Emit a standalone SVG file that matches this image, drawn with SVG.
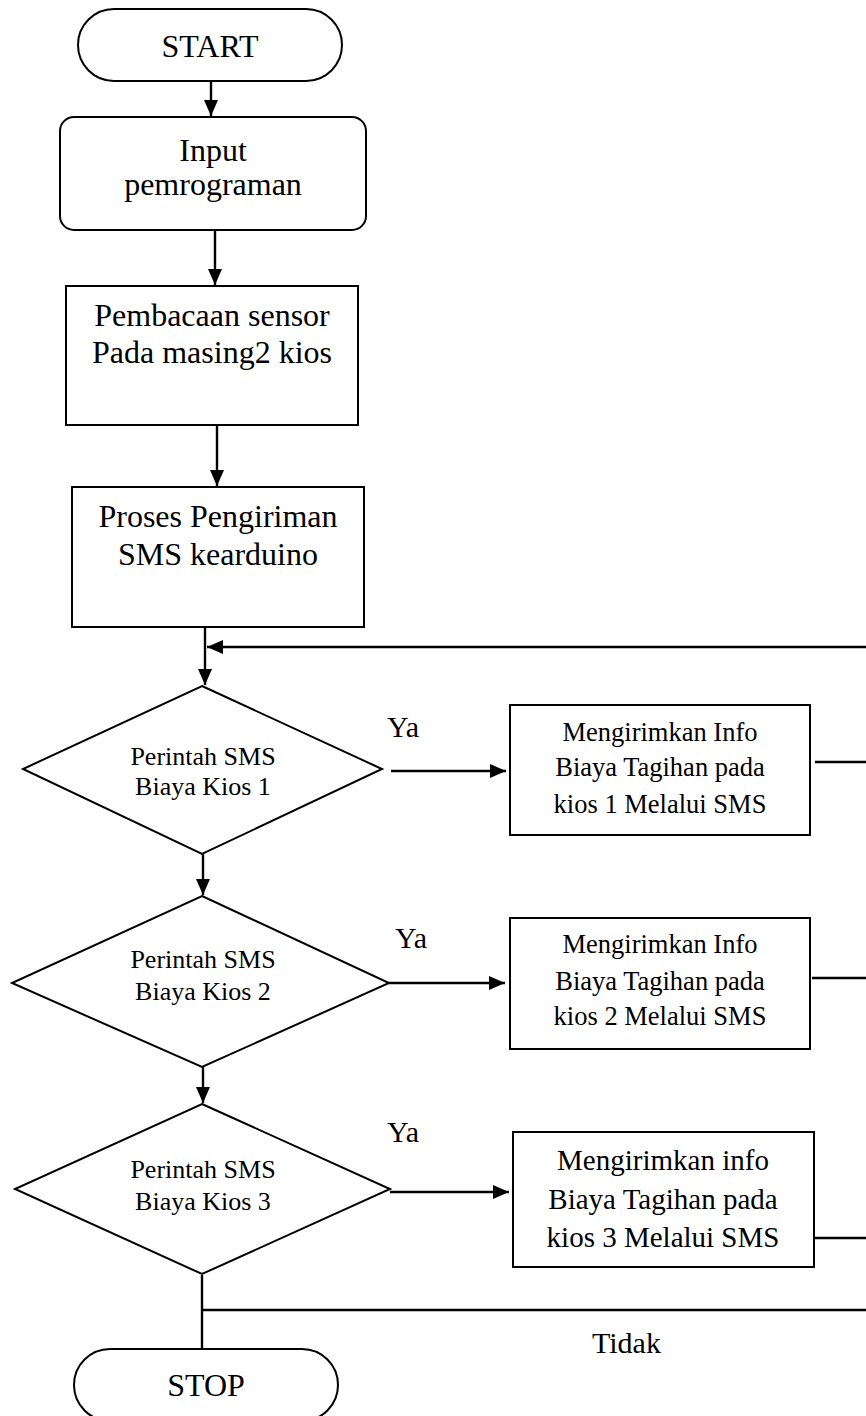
<svg xmlns="http://www.w3.org/2000/svg" width="866" height="1416" viewBox="0 0 866 1416">
<style>
.s{fill:#fff;stroke:#000;stroke-width:2}
.c{fill:none;stroke:#000;stroke-width:2.4}
text{font-family:"Liberation Serif","Times New Roman",serif;fill:#000;text-anchor:middle}
.b{font-size:32px}
.d{font-size:26px}
.m{font-size:26.5px}
.l{font-size:29px}
.y{font-size:30px;text-anchor:start}
</style>
<defs>
<marker id="ah" markerUnits="userSpaceOnUse" markerWidth="17" markerHeight="15" refX="16" refY="7" orient="auto">
<path d="M0,0 L16,7 L0,14 z" fill="#000"/>
</marker>
</defs>
<rect width="866" height="1416" fill="#fff"/>
<g id="connectors">
<line class="c" x1="211" y1="81" x2="211" y2="116" marker-end="url(#ah)"/>
<line class="c" x1="215" y1="230" x2="215" y2="285" marker-end="url(#ah)"/>
<line class="c" x1="217" y1="426" x2="217" y2="486" marker-end="url(#ah)"/>
<line class="c" x1="205" y1="627" x2="205" y2="685" marker-end="url(#ah)"/>
<line class="c" x1="866" y1="647" x2="207" y2="647" marker-end="url(#ah)"/>
<line class="c" x1="391" y1="771" x2="506" y2="771" marker-end="url(#ah)"/>
<line class="c" x1="815" y1="762" x2="866" y2="762"/>
<line class="c" x1="203" y1="854" x2="203" y2="895" marker-end="url(#ah)"/>
<line class="c" x1="389" y1="983" x2="505" y2="983" marker-end="url(#ah)"/>
<line class="c" x1="812" y1="978" x2="866" y2="978"/>
<line class="c" x1="203" y1="1067" x2="203" y2="1103" marker-end="url(#ah)"/>
<line class="c" x1="390" y1="1192" x2="509" y2="1192" marker-end="url(#ah)"/>
<line class="c" x1="814" y1="1238" x2="866" y2="1238"/>
<line class="c" x1="202" y1="1275" x2="202" y2="1349"/>
<line class="c" x1="202" y1="1310" x2="866" y2="1310"/>
</g>
<g id="start">
<rect class="s" x="78" y="9" width="264" height="72" rx="36"/>
<text class="b" x="210" y="57">START</text>
</g>
<g id="input">
<rect class="s" x="60" y="117" width="306" height="113" rx="14"/>
<text class="b" x="213" y="161">Input</text>
<text class="b" x="213" y="195">pemrograman</text>
</g>
<g id="pembacaan">
<rect class="s" x="66" y="286" width="292" height="139"/>
<text class="b" x="212" y="326">Pembacaan sensor</text>
<text class="b" x="212" y="363">Pada masing2 kios</text>
</g>
<g id="proses">
<rect class="s" x="72" y="487" width="292" height="140"/>
<text class="b" x="218" y="527">Proses Pengiriman</text>
<text class="b" x="218" y="565">SMS kearduino</text>
</g>
<g id="decision1">
<polygon class="s" points="202,686 382,769 202,854 23,769"/>
<text class="d" x="203" y="765">Perintah SMS</text>
<text class="d" x="203" y="795">Biaya Kios 1</text>
</g>
<text class="y" x="387" y="737">Ya</text>
<g id="info1">
<rect class="s" x="510" y="705" width="300" height="130"/>
<text class="m" x="660" y="741">Mengirimkan Info</text>
<text class="m" x="660" y="776">Biaya Tagihan pada</text>
<text class="m" x="660" y="813">kios 1 Melalui SMS</text>
</g>
<g id="decision2">
<polygon class="s" points="202,896 389,983 202,1067 12,983"/>
<text class="d" x="203" y="968">Perintah SMS</text>
<text class="d" x="203" y="1000">Biaya Kios 2</text>
</g>
<text class="y" x="395" y="948">Ya</text>
<g id="info2">
<rect class="s" x="510" y="918" width="300" height="131"/>
<text class="m" x="660" y="953">Mengirimkan Info</text>
<text class="m" x="660" y="990">Biaya Tagihan pada</text>
<text class="m" x="660" y="1025">kios 2 Melalui SMS</text>
</g>
<g id="decision3">
<polygon class="s" points="202,1104 390,1189 202,1274 15,1189"/>
<text class="d" x="203" y="1178">Perintah SMS</text>
<text class="d" x="203" y="1210">Biaya Kios 3</text>
</g>
<text class="y" x="387" y="1142">Ya</text>
<g id="info3">
<rect class="s" x="513" y="1132" width="301" height="135"/>
<text class="l" x="663" y="1170">Mengirimkan info</text>
<text class="l" x="663" y="1209">Biaya Tagihan pada</text>
<text class="l" x="663" y="1247">kios 3 Melalui SMS</text>
</g>
<text class="y" x="592" y="1353">Tidak</text>
<g id="stop">
<rect class="s" x="74" y="1349" width="264" height="72" rx="36"/>
<text class="b" x="206" y="1396">STOP</text>
</g>
</svg>
